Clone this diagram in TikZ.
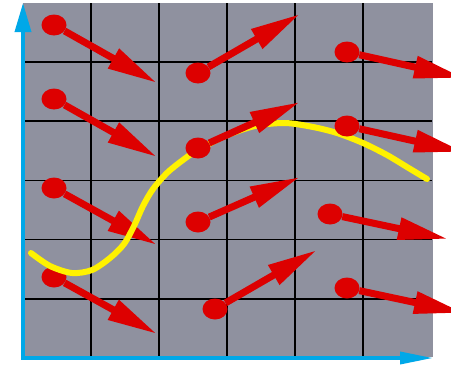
\documentclass[tikz,border=0pt]{standalone}
\usetikzlibrary{arrows.meta,shapes.geometric}
\definecolor{cellgray}{RGB}{143,145,159}
\definecolor{vecred}{RGB}{221,0,0}
\definecolor{axisblue}{RGB}{0,168,232}
\definecolor{curveyellow}{RGB}{255,242,0}
\tikzset{
  dot/.style={ellipse,fill=vecred,inner sep=0pt,minimum width=25pt,minimum height=21pt},
  vec/.style={draw=vecred,line width=7pt,-{Triangle[length=50pt,width=21pt]}},
  gridline/.style={black,line width=1.6pt},
  axisline/.style={axisblue,line width=3.5pt},
  curve/.style={curveyellow,line width=6pt,line cap=round,line join=round}
}
\begin{document}
\begin{tikzpicture}[x=1pt,y=-1pt]
\clip (0,0) rectangle (451,365);
\fill[white] (0,0) rectangle (451,365);
% background panel
\fill[cellgray] (23,3) rectangle (433,357);
\foreach \gx in {91,159,227,295,363} \draw[gridline] (\gx,3) -- (\gx,357);
\foreach \gy in {62,121,180.5,239.5,299} \draw[gridline] (23,\gy) -- (432,\gy);
% axes
\coordinate (o) at (23,358);
\coordinate (ytop) at (23,3);
\coordinate (xend) at (433,358);
\draw[axisline,-{Triangle[length=29pt,width=16pt]}] (o) -- (ytop);
\draw[axisline,-{Triangle[length=33pt,width=12pt]}] ([xshift=-1.75pt]o) -- (xend);
% column 1 vectors
\node[dot] (d1) at (54,25) {};   \coordinate (t1) at (157,83);
\node[dot] (d2) at (54,99) {};   \coordinate (t2) at (157,157);
\node[dot] (d3) at (54,188) {};  \coordinate (t3) at (157,245);
\node[dot] (d4) at (54,277) {};  \coordinate (t4) at (157,334);
\foreach \i in {1,2,3,4} \draw[vec] (d\i) -- (t\i);
% yellow curve
\draw[curve] plot[smooth,tension=0.5] coordinates {
  (31,253) (50,266) (72,273) (92,270) (110,258) (124,244)
  (134,226) (143,206) (153,189) (168,172) (187,157)
  (198,150) (225,136) (255,126) (285,123) (313,127) (337,133) (363,143)
  (387,155) (407,167) (427,179)};
% column 2 vectors
\node[dot] (d5) at (198,73) {};  \coordinate (t5) at (300,14);
\node[dot] (d6) at (198,148) {}; \coordinate (t6) at (300,102);
\node[dot] (d7) at (198,222) {}; \coordinate (t7) at (300,177);
\node[dot] (d8) at (215,309) {}; \coordinate (t8) at (317,250);
% column 3 vectors
\node[dot] (d9) at (347,52) {};   \coordinate (t9) at (464,78);
\node[dot] (d10) at (347,126) {}; \coordinate (t10) at (464,152);
\node[dot] (d11) at (330,214) {}; \coordinate (t11) at (448,239);
\node[dot] (d12) at (347,288) {}; \coordinate (t12) at (464,313);
\foreach \i in {5,6,7,8,9,10,11,12} \draw[vec] (d\i) -- (t\i);
\end{tikzpicture}
\end{document}
